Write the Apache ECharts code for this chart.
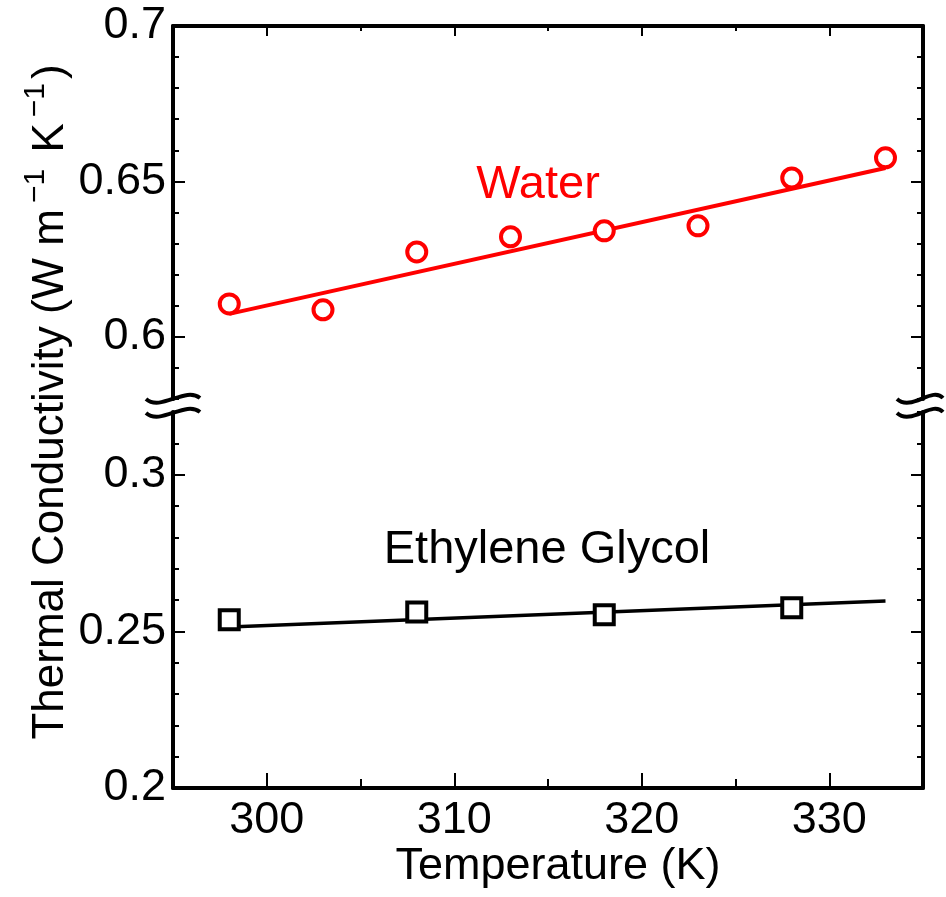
<!DOCTYPE html>
<html>
<head>
<meta charset="utf-8">
<script src="https://cdn.jsdelivr.net/npm/echarts@6/dist/echarts.min.js"></script>
<style>html,body{margin:0;padding:0;background:#fff}#c{width:946px;height:897px}</style>
</head>
<body>
<div id="c"></div>
<script>
const tempsWater = [298, 303, 308, 313, 318, 323, 328, 333];
const kWater = [0.6106, 0.6087, 0.6273, 0.6322, 0.6341, 0.6357, 0.6511, 0.6576];
const tempsEG = [298, 308, 318, 328];
const kEG = [0.2537, 0.2562, 0.2553, 0.2575];
const fitX = [298, 333];
const fitWater = [0.6074, 0.6543];
const fitEG = [0.2514, 0.2597];
const xMajorTicks = [300, 310, 320, 330];
const yUpperTicks = [0.6, 0.65, 0.7];
const yLowerTicks = [0.2, 0.25, 0.3];

const FONT = 'Liberation Sans, Arial, sans-serif';
const FS = 45;
const zip = (a, b) => a.map((v, i) => [v, b[i]]);

function xAxes(grid, pos, showLabels, majorLen, minorLen) {
  const base = { type: 'value', gridIndex: grid, position: pos, min: 295, max: 335, splitLine: { show: false } };
  return [
    Object.assign({}, base, {
      axisLine: { show: true, onZero: false, lineStyle: { color: '#000', width: 4 } },
      axisTick: { show: true, inside: true, length: majorLen, customValues: xMajorTicks, lineStyle: { color: '#000', width: 2 } },
      axisLabel: { show: showLabels, customValues: xMajorTicks, margin: 10, color: '#000', fontSize: FS, fontFamily: FONT },
      name: showLabels ? 'Temperature (K)' : '',
      nameLocation: 'middle', nameGap: 56,
      nameTextStyle: { color: '#000', fontSize: FS, fontFamily: FONT, padding: [0, 0, 0, 20] }
    }),
    Object.assign({}, base, {
      interval: 5,
      axisLine: { show: false, onZero: false },
      axisTick: { show: true, inside: true, length: minorLen, lineStyle: { color: '#000', width: 2 } },
      axisLabel: { show: false }
    })
  ];
}

function yAxes(grid, pos, mn, mx, majors, showLabels) {
  const base = { type: 'value', gridIndex: grid, position: pos, min: mn, max: mx, splitLine: { show: false } };
  return [
    Object.assign({}, base, {
      axisLine: { show: true, onZero: false, lineStyle: { color: '#000', width: 4 } },
      axisTick: { show: true, inside: true, length: 12, customValues: majors, lineStyle: { color: '#000', width: 2 } },
      axisLabel: { show: showLabels, customValues: majors, margin: 7, color: '#000', fontSize: FS, fontFamily: FONT,
                   formatter: v => String(+(+v).toFixed(2)) }
    }),
    Object.assign({}, base, {
      interval: 0.01,
      axisLine: { show: false, onZero: false },
      axisTick: { show: true, inside: true, length: 6, lineStyle: { color: '#000', width: 2 } },
      axisLabel: { show: false }
    })
  ];
}

const xAxis = [].concat(
  xAxes(0, 'top', false, 10, 5),
  xAxes(1, 'bottom', true, 15, 9)
);
const yAxis = [].concat(
  yAxes(0, 'left', 0.58, 0.7, yUpperTicks, true),
  yAxes(0, 'right', 0.58, 0.7, yUpperTicks, false),
  yAxes(1, 'left', 0.2, 0.32, yLowerTicks, true),
  yAxes(1, 'right', 0.2, 0.32, yLowerTicks, false)
);

function squiggles(cx, cy, l, r) {
  const out = [];
  [0, 14].forEach(dy => {
    out.push({
      type: 'bezierCurve', z: 100,
      shape: { x1: cx - l, y1: cy + dy, cpx1: cx - l * 0.45, cpy1: cy + dy + 13, cpx2: cx + r * 0.45, cpy2: cy + dy - 13, x2: cx + r, y2: cy + dy - 1 },
      style: { stroke: '#000', lineWidth: 4, fill: null }
    });
  });
  return out;
}

const chart = echarts.init(document.getElementById('c'), null, { renderer: 'canvas' });
chart.setOption({
  backgroundColor: '#fff',
  animation: false,
  grid: [
    { left: 173, right: 23, top: 26, bottom: 897 - 399 },
    { left: 173, right: 23, top: 412, bottom: 109 }
  ],
  xAxis: xAxis,
  yAxis: yAxis,
  series: [
    { type: 'line', xAxisIndex: 0, yAxisIndex: 0, data: zip(fitX, fitWater), showSymbol: false, symbol: 'none',
      lineStyle: { color: '#ff0000', width: 4 }, z: 2 },
    { type: 'scatter', xAxisIndex: 0, yAxisIndex: 0, data: zip(tempsWater, kWater), symbol: 'circle', symbolSize: 19,
      itemStyle: { color: '#fff', borderColor: '#ff0000', borderWidth: 4, opacity: 1 }, z: 3 },
    { type: 'line', xAxisIndex: 2, yAxisIndex: 4, data: zip(fitX, fitEG), showSymbol: false, symbol: 'none',
      lineStyle: { color: '#000', width: 3.5 }, z: 2 },
    { type: 'scatter', xAxisIndex: 2, yAxisIndex: 4, data: zip(tempsEG, kEG), symbol: 'rect', symbolSize: 19,
      itemStyle: { color: '#fff', borderColor: '#000', borderWidth: 4, opacity: 1 }, z: 3 }
  ],
  graphic: [].concat(
    squiggles(173, 399, 27, 27),
    squiggles(923, 399, 26, 20),
    [
      { type: 'text', x: 538, y: 185, z: 50,
        style: { text: 'Water', fill: '#ff0000', fontSize: 47, fontFamily: FONT, align: 'center', verticalAlign: 'middle' } },
      { type: 'text', x: 547, y: 550, z: 50,
        style: { text: 'Ethylene Glycol', fill: '#000', fontSize: 47, fontFamily: FONT, align: 'center', verticalAlign: 'middle' } },
      { type: 'text', x: 47, y: 402, rotation: Math.PI / 2, z: 50,
        style: {
          text: '{a|Thermal Conductivity (W m}{s|−1}{a| K}{s|−1}{a|)}',
          align: 'center', verticalAlign: 'middle', fill: '#000',
          rich: {
            a: { fontSize: 44, fontFamily: FONT, fill: '#000', lineHeight: 52, verticalAlign: 'bottom' },
            s: { fontSize: 30, fontFamily: FONT, fill: '#000', lineHeight: 52, verticalAlign: 'top', padding: [0, 4, 0, 6] }
          }
        } }
    ]
  )
});
</script>
</body>
</html>
